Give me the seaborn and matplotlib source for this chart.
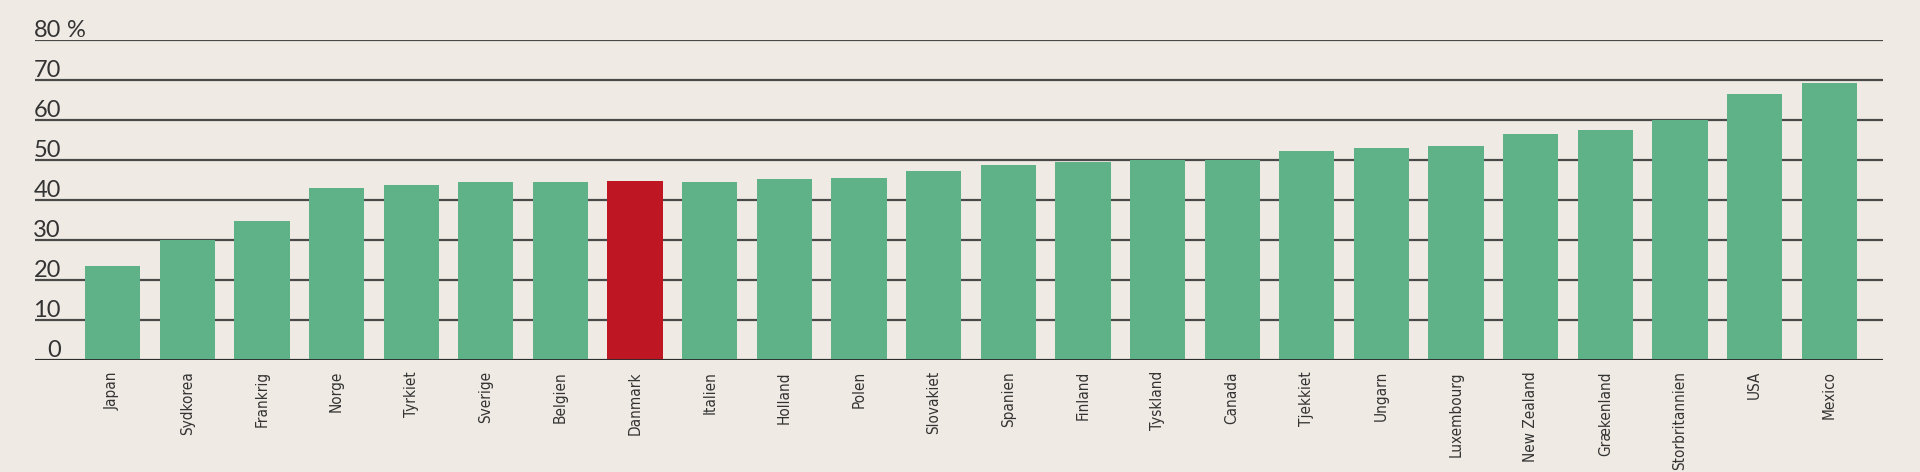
import matplotlib
matplotlib.use("Agg")
import matplotlib.pyplot as plt
import matplotlib.transforms as mtransforms
import seaborn as sns
import pandas as pd

# Data (percent)
countries = ["Japan", "Sydkorea", "Frankrig", "Norge", "Tyrkiet", "Sverige", "Belgien",
             "Danmark", "Italien", "Holland", "Polen", "Slovakiet", "Spanien", "Finland",
             "Tyskland", "Canada", "Tjekkiet", "Ungarn", "Luxembourg", "New Zealand",
             "Grækenland", "Storbritannien", "USA", "Mexico"]
values = [23.6, 30.0, 34.8, 43.1, 43.7, 44.4, 44.5, 44.8, 44.6, 45.2, 45.5, 47.2,
          48.7, 49.6, 49.9, 49.9, 52.2, 52.9, 53.5, 56.4, 57.5, 60.0, 66.5, 69.3]
highlight = "Danmark"
yticks = [0, 10, 20, 30, 40, 50, 60, 70, 80]

bg = "#EFEAE3"
green = "#5FB188"
red = "#BE1622"
txt = "#333333"

df = pd.DataFrame({"land": countries, "pct": values})
colors = [red if c == highlight else green for c in countries]

sns.set_style("white")
plt.rcParams["font.family"] = ["Lato", "DejaVu Sans"]

fig = plt.figure(figsize=(19.2, 4.72), dpi=100, facecolor=bg)
ax = fig.add_axes([35 / 1920, 112 / 472, 1848 / 1920, 320 / 472])
ax.set_facecolor(bg)

# horizontal gridlines behind the bars
for y in yticks:
    ax.axhline(y, color="#4a4a4a", lw=1.6, zorder=0)

sns.barplot(data=df, x="land", y="pct", hue="land", palette=colors, legend=False,
            width=0.74, saturation=1, linewidth=0, ax=ax, zorder=2)

ax.set_xlim(-1.04, 23.72)
ax.set_ylim(0, 80)
ax.axhline(0, color="#2a2a2a", lw=2, zorder=3)

for s in ax.spines.values():
    s.set_visible(False)

ax.set_xlabel("")
ax.set_ylabel("")
ax.set_yticks([])
ax.tick_params(axis="x", length=0, pad=8)
ax.set_xticks(range(len(countries)))
ax.set_xticklabels(countries, rotation=90, fontsize=11, color=txt,
                   family="DejaVu Sans", fontstretch="condensed")

# y labels sit above the gridlines
trans = mtransforms.blended_transform_factory(ax.transAxes, ax.transData)
xr = 26 / 1848
for y in yticks:
    ax.text(xr, y + 0.8, str(y), transform=trans, ha="right", va="baseline",
            fontsize=17, color=txt, clip_on=False)
ax.text(xr + 6 / 1848, 80 + 0.8, "%", transform=trans, ha="left", va="baseline",
        fontsize=17, color=txt, clip_on=False)

fig.savefig("out.png", dpi=100, facecolor=bg)
